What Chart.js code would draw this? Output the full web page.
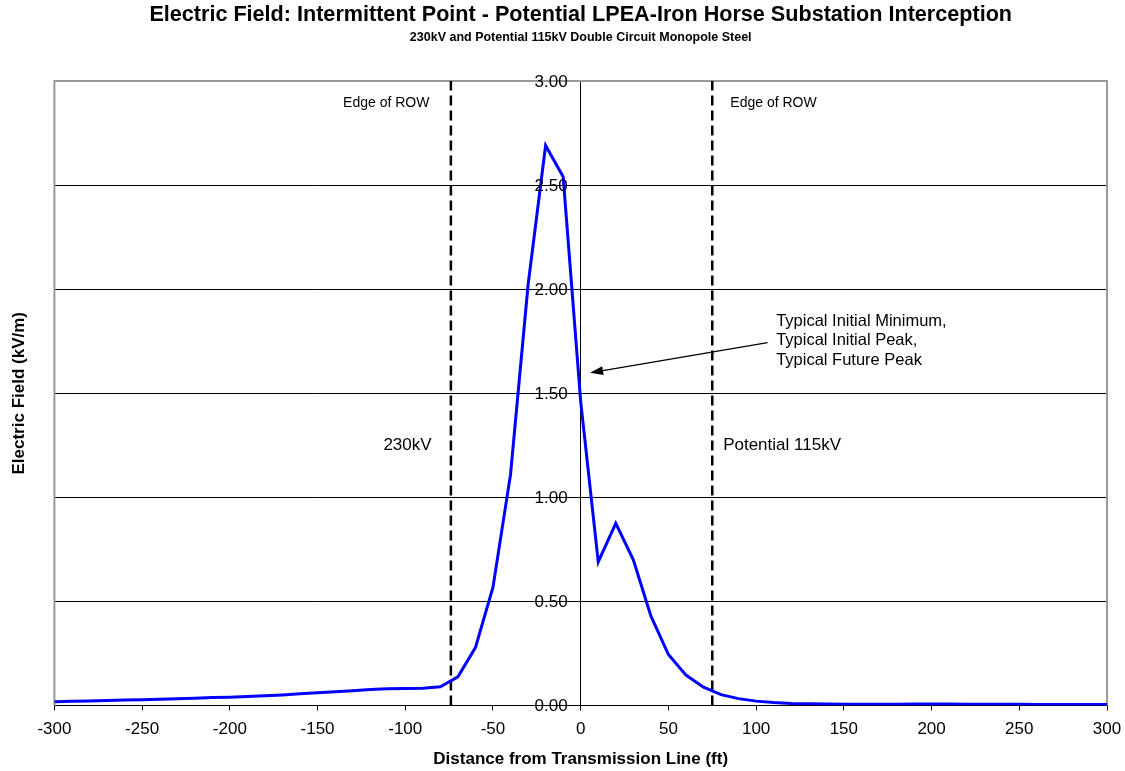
<!DOCTYPE html>
<html>
<head>
<meta charset="utf-8">
<script src="https://cdn.jsdelivr.net/npm/chart.js@4.4.1/dist/chart.umd.min.js"></script>
<style>
  html, body { margin: 0; padding: 0; background: #fff; }
  canvas { display: block; }
</style>
</head>
<body>
<canvas id="chart" width="1125" height="771"></canvas>
<script>
// distance from the line (ft) and electric field (kV/m)
const distances = [
  -300, -290, -280, -270, -260, -250, -240, -230, -220, -210,
  -200, -190, -180, -170, -160, -150, -140, -130, -120, -110,
  -100, -90, -80, -70, -60, -50, -40, -30, -20, -10,
  0, 10, 20, 30, 40, 50, 60, 70, 80, 90,
  100, 110, 120, 130, 140, 150, 160, 170, 180, 190,
  200, 210, 220, 230, 240, 250, 260, 270, 280, 290, 300
];
const electricField = [
  0.018, 0.020, 0.022, 0.024, 0.026, 0.028, 0.030, 0.033, 0.035, 0.038,
  0.040, 0.043, 0.047, 0.051, 0.056, 0.061, 0.066, 0.071, 0.077, 0.081,
  0.082, 0.083, 0.090, 0.138, 0.278, 0.568, 1.11, 2.02, 2.69, 2.54,
  1.46, 0.69, 0.875, 0.70, 0.43, 0.245, 0.146, 0.088, 0.052, 0.033,
  0.021, 0.014, 0.010, 0.008, 0.007, 0.006, 0.006, 0.006, 0.006, 0.007,
  0.007, 0.007, 0.006, 0.006, 0.006, 0.006, 0.005, 0.005, 0.005, 0.005, 0.005
];
const rowEdges = [-74, 75];

const FONT = "'Liberation Sans', Arial, sans-serif";
Chart.defaults.font.family = FONT;
Chart.defaults.color = '#000';

// grey frame round the plot area (bottom edge is the x axis)
const frame = {
  id: 'frame',
  beforeDatasetsDraw(chart) {
    const { ctx, chartArea: a } = chart;
    ctx.save();
    ctx.strokeStyle = '#999';
    ctx.lineWidth = 2;
    ctx.beginPath();
    ctx.moveTo(a.left, a.bottom);
    ctx.lineTo(a.left, a.top);
    ctx.lineTo(a.right, a.top);
    ctx.lineTo(a.right, a.bottom);
    ctx.stroke();
    ctx.restore();
  }
};

// y tick labels sit left of the centre axis, Chart.js puts them on it
const yLabels = {
  id: 'yLabels',
  afterDatasetsDraw(chart) {
    const { ctx } = chart;
    const y = chart.scales.y;
    const axisX = chart.scales.x.getPixelForValue(0);
    ctx.save();
    ctx.font = '17px ' + FONT;
    ctx.fillStyle = '#000';
    ctx.textAlign = 'right';
    ctx.textBaseline = 'middle';
    y.ticks.forEach(t => {
      ctx.fillText(t.value.toFixed(2), axisX - 13, y.getPixelForValue(t.value) + 1);
    });
    ctx.restore();
  }
};

// text labels and the arrow, placed in data units
const notes = {
  id: 'notes',
  afterDatasetsDraw(chart) {
    const { ctx } = chart;
    const x = chart.scales.x, y = chart.scales.y;
    const px = v => x.getPixelForValue(v);
    const py = v => y.getPixelForValue(v);
    ctx.save();
    ctx.fillStyle = '#000';
    ctx.textBaseline = 'middle';

    ctx.font = '14px ' + FONT;
    ctx.textAlign = 'right';
    ctx.fillText('Edge of ROW', px(-86.2), py(2.894));
    ctx.textAlign = 'left';
    ctx.fillText('Edge of ROW', px(85.3), py(2.894));

    ctx.font = '17px ' + FONT;
    ctx.textAlign = 'right';
    ctx.fillText('230kV', px(-85), py(1.251));
    ctx.textAlign = 'left';
    ctx.fillText('Potential 115kV', px(81.2), py(1.251));

    ctx.font = '16.5px ' + FONT;
    ctx.fillText('Typical Initial Minimum,', px(111.4), py(1.843));
    ctx.fillText('Typical Initial Peak,', px(111.4), py(1.752));
    ctx.fillText('Typical Future Peak', px(111.4), py(1.658));

    // arrow
    const x1 = px(106.5), y1 = py(1.743), x2 = px(5.35), y2 = py(1.598);
    const ang = Math.atan2(y2 - y1, x2 - x1);
    const hl = 13, hw = 4.5;
    const bx = x2 - hl * Math.cos(ang), by = y2 - hl * Math.sin(ang);
    ctx.strokeStyle = '#000';
    ctx.lineWidth = 1.3;
    ctx.beginPath();
    ctx.moveTo(x1, y1);
    ctx.lineTo(bx, by);
    ctx.stroke();
    ctx.beginPath();
    ctx.moveTo(x2, y2);
    ctx.lineTo(bx + hw * Math.sin(ang), by - hw * Math.cos(ang));
    ctx.lineTo(bx - hw * Math.sin(ang), by + hw * Math.cos(ang));
    ctx.closePath();
    ctx.fill();
    ctx.restore();
  }
};

const edgeLine = v => ({
  data: [{ x: v, y: 0 }, { x: v, y: 3 }],
  borderColor: '#000',
  borderWidth: 2.5,
  borderDash: [10, 5],
  pointRadius: 0,
  fill: false
});

new Chart(document.getElementById('chart'), {
  type: 'line',
  data: {
    datasets: [
      {
        label: 'Electric Field',
        data: distances.map((d, i) => ({ x: d, y: electricField[i] })),
        borderColor: '#0000ff',
        borderWidth: 3,
        pointRadius: 0,
        tension: 0,
        fill: false
      },
      edgeLine(rowEdges[0]),
      edgeLine(rowEdges[1])
    ]
  },
  options: {
    responsive: false,
    devicePixelRatio: 1,
    animation: false,
    layout: { padding: { left: 4, right: 18, top: 0, bottom: 0 } },
    plugins: {
      legend: { display: false },
      tooltip: { enabled: false },
      title: {
        display: true,
        fullSize: false,
        text: 'Electric Field: Intermittent Point - Potential LPEA-Iron Horse Substation Interception',
        font: { size: 21.6, weight: 'bold' },
        color: '#000',
        padding: { top: 2, bottom: 0 }
      },
      subtitle: {
        display: true,
        fullSize: false,
        text: '230kV and Potential 115kV Double Circuit Monopole Steel',
        font: { size: 12.5, weight: 'bold' },
        color: '#000',
        padding: { top: 2.5, bottom: 35.6 }
      }
    },
    scales: {
      x: {
        type: 'linear',
        min: -300,
        max: 300,
        ticks: { stepSize: 50, font: { size: 17 }, padding: 9, maxRotation: 0 },
        grid: { drawOnChartArea: false, tickLength: 5, color: '#000' },
        border: { color: '#000', width: 1 },
        afterFit(scale) {
          scale.paddingLeft = 0;
          scale.paddingRight = 0;
        },
        title: {
          display: true,
          text: 'Distance from Transmission Line (ft)',
          font: { size: 17, weight: 'bold' },
          padding: { top: 0.7, bottom: 1 }
        }
      },
      y: {
        type: 'linear',
        position: { x: 0 },
        min: 0,
        max: 3,
        ticks: { stepSize: 0.5, display: false },
        grid: { color: '#000', lineWidth: 1, tickLength: 10 },
        border: { color: '#000', width: 1 }
      },
      yTitle: {
        type: 'linear',
        position: 'left',
        min: 0,
        max: 3,
        ticks: { display: false },
        grid: { display: false, drawTicks: false },
        border: { display: false },
        title: {
          display: true,
          text: 'Electric Field (kV/m)',
          font: { size: 17, weight: 'bold' },
          padding: { top: 5, bottom: 25 }
        }
      }
    }
  },
  plugins: [frame, yLabels, notes]
});
</script>
</body>
</html>
